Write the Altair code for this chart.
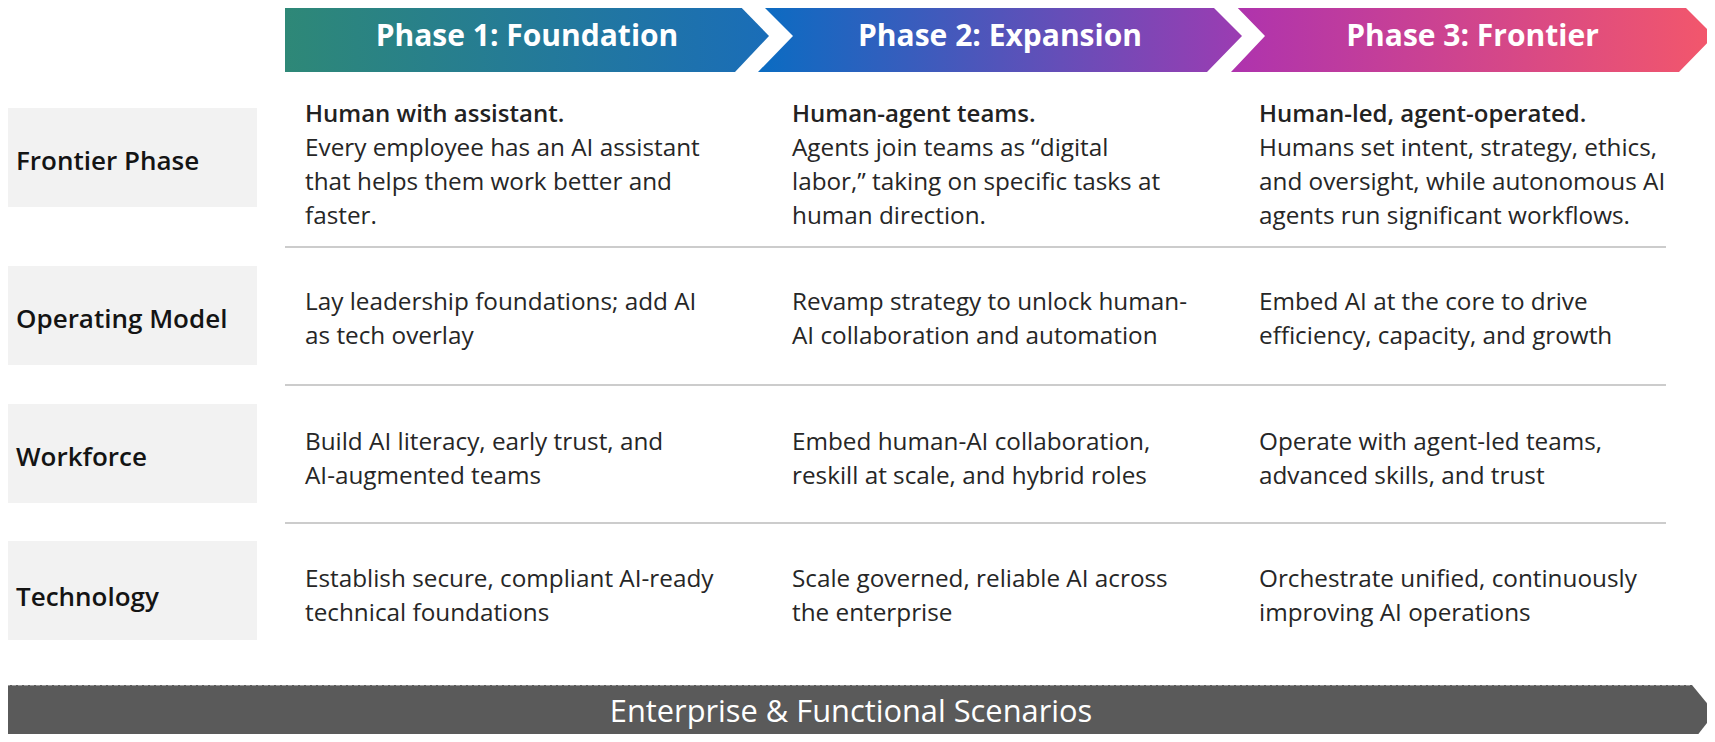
import altair as alt
import pandas as pd

# ---------------- content ----------------
phases = ["Phase 1: Foundation", "Phase 2: Expansion", "Phase 3: Frontier"]
phase_colors = [("#2e8877", "#1a6db8"), ("#0a6cc2", "#9c3cb2"), ("#ae33ae", "#f3576b")]
row_labels = ["Frontier Phase", "Operating Model", "Workforce", "Technology"]
headlines = ["Human with assistant.", "Human-agent teams.", "Human-led, agent-operated."]
frontier_lines = [
    ["Every employee has an AI assistant", "that helps them work better and", "faster."],
    ["Agents join teams as \u201cdigital", "labor,\u201d taking on specific tasks at", "human direction."],
    ["Humans set intent, strategy, ethics,", "and oversight, while autonomous AI", "agents run significant workflows."],
]
operating_lines = [
    ["Lay leadership foundations; add AI", "as tech overlay"],
    ["Revamp strategy to unlock human-", "AI collaboration and automation"],
    ["Embed AI at the core to drive", "efficiency, capacity, and growth"],
]
workforce_lines = [
    ["Build AI literacy, early trust, and", "AI-augmented teams"],
    ["Embed human-AI collaboration,", "reskill at scale, and hybrid roles"],
    ["Operate with agent-led teams,", "advanced skills, and trust"],
]
technology_lines = [
    ["Establish secure, compliant AI-ready", "technical foundations"],
    ["Scale governed, reliable AI across", "the enterprise"],
    ["Orchestrate unified, continuously", "improving AI operations"],
]
footer = "Enterprise & Functional Scenarios"

# ---------------- layout (reference pixel space) ----------------
FONT = "Open Sans"
W, H = 1699, 726
XS = alt.Scale(domain=[8, 8 + W], nice=False, zero=False)
YS = alt.Scale(domain=[8, 8 + H], nice=False, zero=False, reverse=True)

hdr_top, hdr_mid, hdr_bot = 1, 36, 72
# (left edge at top, notch depth, right edge at top, tip depth)
chev = [(285, 0, 735, 34), (758, 35, 1207, 35), (1231, 34, 1679, 35)]

layers = []
for i, (name, (c0, c1), (l, nd, r, td)) in enumerate(zip(phases, phase_colors, chev)):
    df = pd.DataFrame({
        "y": [hdr_top, hdr_mid, hdr_bot],
        "x": [l, l + nd, l],
        "x2": [r, r + td, r],
    })
    grad = alt.Gradient(gradient="linear",
                        stops=[alt.GradientStop(color=c0, offset=0),
                               alt.GradientStop(color=c1, offset=1)],
                        x1=0, x2=1, y1=0, y2=0)
    layers.append(
        alt.Chart(df).mark_area(orient="horizontal", color=grad, interpolate="linear")
        .encode(y=alt.Y("y:Q", scale=YS, axis=None),
                x=alt.X("x:Q", scale=XS, axis=None),
                x2="x2:Q")
    )

hdr_df = pd.DataFrame({
    "label": phases,
    "x": [(c[0] + c[2] + c[3]) / 2 for c in chev],
    "y": [37] * 3,
})
layers.append(
    alt.Chart(hdr_df).mark_text(font=FONT, fontSize=30, fontWeight="bold", color="white",
                                align="center", baseline="middle")
    .encode(x=alt.X("x:Q", scale=XS), y=alt.Y("y:Q", scale=YS), text="label:N")
)

# row label boxes
box_tops = [108, 266, 404, 541]
box_h = 99
box_df = pd.DataFrame({
    "x": [0] * 4, "x2": [257] * 4,
    "y": box_tops, "y2": [t + box_h for t in box_tops],
})
layers.append(
    alt.Chart(box_df).mark_rect(color="#f2f2f2")
    .encode(x=alt.X("x:Q", scale=XS), x2="x2:Q", y=alt.Y("y:Q", scale=YS), y2="y2:Q")
)
lab_df = pd.DataFrame({"label": row_labels, "x": [16] * 4, "y": [162, 320, 458, 598]})
layers.append(
    alt.Chart(lab_df).mark_text(font=FONT, fontSize=26, fontWeight=600, color="#141414",
                                align="left", baseline="middle")
    .encode(x=alt.X("x:Q", scale=XS), y=alt.Y("y:Q", scale=YS), text="label:N")
)

# separators
sep_df = pd.DataFrame({"x": [285] * 3, "x2": [1666] * 3, "y": [247, 385, 523]})
layers.append(
    alt.Chart(sep_df).mark_rule(color="#cccccc", strokeWidth=2)
    .encode(x=alt.X("x:Q", scale=XS), x2="x2:Q", y=alt.Y("y:Q", scale=YS))
)

# cell texts
col_x = [305, 792, 1259]
line_h = 34
first_y = [115, 303, 443, 580]
recs = []
bold_recs = []
for c in range(3):
    bold_recs.append({"x": col_x[c], "y": first_y[0], "t": headlines[c]})
    for j, t in enumerate(frontier_lines[c]):
        recs.append({"x": col_x[c], "y": first_y[0] + (j + 1) * line_h, "t": t})
    for r, block in enumerate([operating_lines, workforce_lines, technology_lines], start=1):
        for j, t in enumerate(block[c]):
            recs.append({"x": col_x[c], "y": first_y[r] + j * line_h, "t": t})

layers.append(
    alt.Chart(pd.DataFrame(bold_recs)).mark_text(font=FONT, fontSize=24, fontWeight=600,
                                                 color="#222222", align="left", baseline="middle")
    .encode(x=alt.X("x:Q", scale=XS), y=alt.Y("y:Q", scale=YS), text="t:N")
)
layers.append(
    alt.Chart(pd.DataFrame(recs)).mark_text(font=FONT, fontSize=24.3, color="#262626",
                                            align="left", baseline="middle")
    .encode(x=alt.X("x:Q", scale=XS), y=alt.Y("y:Q", scale=YS), text="t:N")
)

# footer bar
bar_df = pd.DataFrame({"y": [685, 713, 742], "x": [0, 0, 0], "x2": [1692, 1715, 1692]})
layers.append(
    alt.Chart(bar_df).mark_area(orient="horizontal", color="#5a5a5a", interpolate="linear")
    .encode(y=alt.Y("y:Q", scale=YS), x=alt.X("x:Q", scale=XS), x2="x2:Q")
)
edge_df = pd.DataFrame({"x": [0], "x2": [1692], "y": [685.5]})
layers.append(
    alt.Chart(edge_df).mark_rule(color="#9a9a9a", strokeWidth=1, strokeDash=[4, 2])
    .encode(x=alt.X("x:Q", scale=XS), x2="x2:Q", y=alt.Y("y:Q", scale=YS))
)
foot_df = pd.DataFrame({"t": [footer], "x": [851], "y": [713]})
layers.append(
    alt.Chart(foot_df).mark_text(font=FONT, fontSize=30.8, color="white",
                                 align="center", baseline="middle")
    .encode(x=alt.X("x:Q", scale=XS), y=alt.Y("y:Q", scale=YS), text="t:N")
)

chart = (
    alt.layer(*layers)
    .properties(width=W, height=H, padding=0,
                autosize=alt.AutoSizeParams(type="none"))
    .configure_view(stroke=None)
)
chart.save("out.html", embed_options={"renderer": "svg", "actions": False})
